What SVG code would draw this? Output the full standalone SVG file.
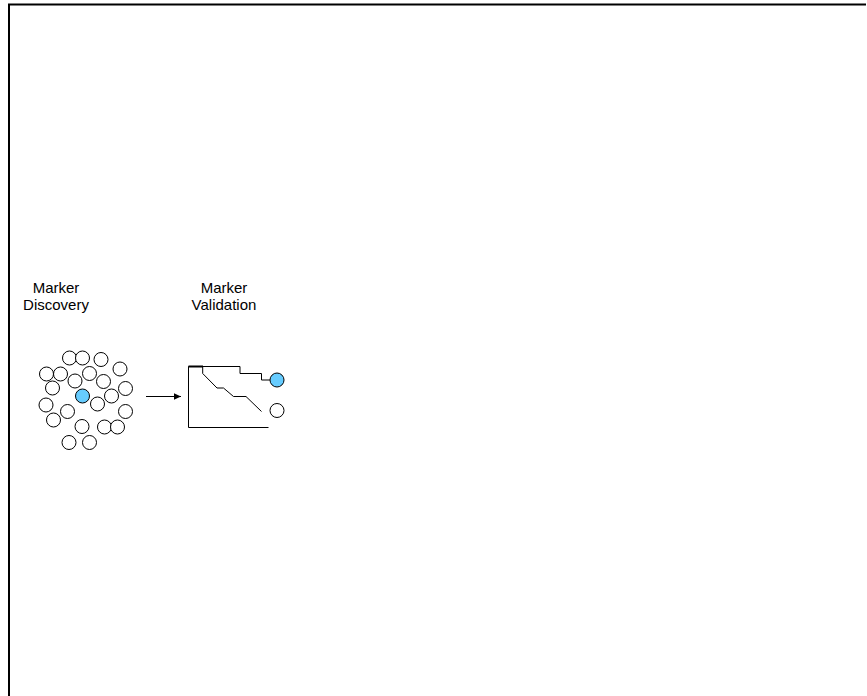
<svg xmlns="http://www.w3.org/2000/svg" width="867" height="696" viewBox="0 0 867 696">
<defs>
<style>
.t{font-family:"Liberation Sans",Arial,sans-serif;font-size:15px;fill:#000;text-anchor:middle}
.c{fill:#fff;stroke:#000;stroke-width:1}
.b{fill:#66ccff;stroke:#000;stroke-width:1}
.l{fill:none;stroke:#000;stroke-width:1}
</style>
<marker id="ah" markerWidth="8" markerHeight="8" refX="7" refY="4" orient="auto" markerUnits="userSpaceOnUse">
<path d="M0,0.8 L7,4 L0,7.2 z" fill="#000"/>
</marker>
</defs>
<rect width="867" height="696" fill="#fff"/>
<g id="frame">
<line x1="8" y1="4.5" x2="866" y2="4.5" stroke="#000" stroke-width="2"/>
<line x1="9" y1="4" x2="9" y2="696" stroke="#000" stroke-width="2"/>
</g>
<g id="discovery">
<text class="t" x="56" y="293">Marker</text>
<text class="t" x="56" y="310">Discovery</text>
<circle class="c" cx="69.5" cy="358" r="7"/>
<circle class="c" cx="82.5" cy="358" r="7"/>
<circle class="c" cx="101" cy="359.5" r="7"/>
<circle class="c" cx="46.5" cy="374" r="7"/>
<circle class="c" cx="60.5" cy="374" r="7"/>
<circle class="c" cx="89.5" cy="373.5" r="7"/>
<circle class="c" cx="120" cy="369" r="7"/>
<circle class="c" cx="75" cy="381" r="7"/>
<circle class="c" cx="103.5" cy="381.5" r="7"/>
<circle class="c" cx="52.5" cy="388" r="7"/>
<circle class="c" cx="125.5" cy="388.5" r="7"/>
<circle class="b" cx="82.5" cy="396" r="7"/>
<circle class="c" cx="111.5" cy="396" r="7"/>
<circle class="c" cx="46" cy="405" r="7"/>
<circle class="c" cx="97.5" cy="404" r="7"/>
<circle class="c" cx="125.5" cy="411.5" r="7"/>
<circle class="c" cx="67.5" cy="411.5" r="7"/>
<circle class="c" cx="53.5" cy="420" r="7"/>
<circle class="c" cx="82" cy="426.5" r="7"/>
<circle class="c" cx="104.5" cy="427" r="7"/>
<circle class="c" cx="117.5" cy="427" r="7"/>
<circle class="c" cx="69" cy="442.5" r="7"/>
<circle class="c" cx="89.5" cy="442.5" r="7"/>
</g>
<g id="connectors">
<line x1="146" y1="396.5" x2="181" y2="396.5" stroke="#000" stroke-width="1.2" marker-end="url(#ah)"/>
</g>
<g id="validation">
<text class="t" x="224" y="293">Marker</text>
<text class="t" x="224" y="310">Validation</text>
<polyline class="l" points="188.5,366.5 188.5,427.5 268.5,427.5"/>
<polyline class="l" points="188.5,366.5 240,366.5 240,373.5 261.5,373.5 261.5,380 270,380"/>
<line x1="188.5" y1="366.5" x2="203" y2="366.5" stroke="#000" stroke-width="2"/>
<polyline class="l" points="202.7,366.5 202.7,373.5 217,388 223.5,388 233.5,396.5 246,396.5 261.5,411.5"/>
<circle class="b" cx="277" cy="380" r="7"/>
<circle class="c" cx="277" cy="410.5" r="7"/>
</g>
</svg>
